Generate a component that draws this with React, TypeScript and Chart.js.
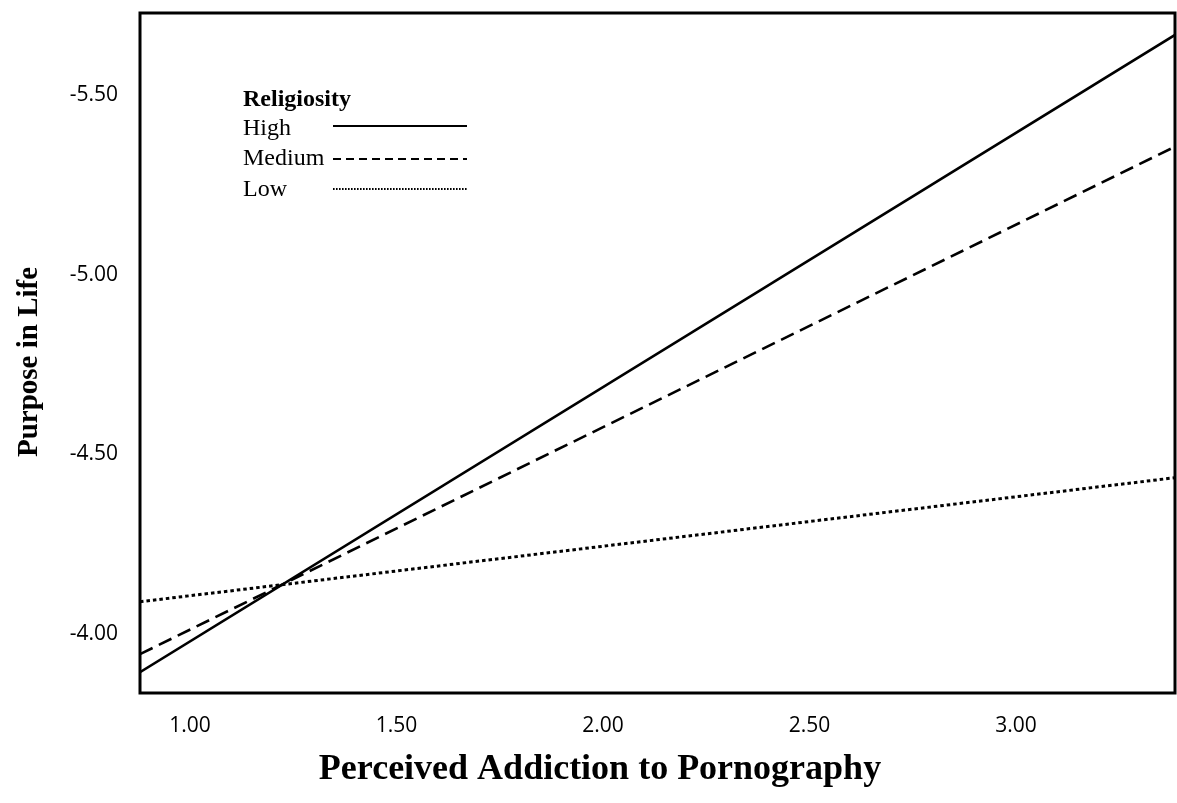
import React, { useEffect, useRef } from "react";
import { Chart, registerables } from "chart.js";

Chart.register(...registerables);

// ---- Data ----
const xValues = [0.879, 3.385];
const highValues = [-3.894, -5.667];
const mediumValues = [-3.944, -5.356];
const lowValues = [-4.09, -4.435];
const seriesLabels = ["High", "Medium", "Low"];
const xTickValues = [1.0, 1.5, 2.0, 2.5, 3.0];
const yTickValues = [-5.5, -5.0, -4.5, -4.0];
const xTitle = "Perceived Addiction to Pornography";
const yTitle = "Purpose in Life";
const legendTitle = "Religiosity";

const SERIF = '"Liberation Serif", "Times New Roman", serif';
const SANS = '"Open Sans", "Noto Sans", sans-serif';

const W = 1177;
const H = 803;

const decorPlugin = {
  id: "decor",
  afterDraw(chart: any) {
    const { ctx, chartArea } = chart;
    ctx.save();
    // frame
    ctx.strokeStyle = "#000";
    ctx.lineWidth = 3;
    ctx.setLineDash([]);
    ctx.strokeRect(chartArea.left, chartArea.top, chartArea.right - chartArea.left, chartArea.bottom - chartArea.top);

    // axis titles
    ctx.fillStyle = "#000";
    ctx.textAlign = "center";
    ctx.textBaseline = "middle";
    ctx.font = `bold 36px ${SERIF}`;
    ctx.fillText(xTitle, 600, 770);
    ctx.font = `bold 29px ${SERIF}`;
    ctx.save();
    ctx.translate(30, 362);
    ctx.rotate(-Math.PI / 2);
    ctx.fillText(yTitle, 0, 0);
    ctx.restore();

    // legend
    const lx = 243;
    ctx.textAlign = "left";
    ctx.font = `bold 24px ${SERIF}`;
    ctx.fillText(legendTitle, lx, 100);
    ctx.font = `24px ${SERIF}`;
    const rowText = [129, 159, 190];
    const rowLine = [126, 159, 189];
    const sampleDash = [[], [8, 5], [1.6, 1.4]];
    chart.data.datasets.forEach((ds: any, i: number) => {
      ctx.fillText(ds.label, lx, rowText[i]);
      ctx.beginPath();
      ctx.setLineDash(sampleDash[i]);
      ctx.lineWidth = 2;
      ctx.moveTo(333, rowLine[i]);
      ctx.lineTo(467, rowLine[i]);
      ctx.stroke();
    });
    ctx.restore();
  },
};

export default function App() {
  const ref = useRef<HTMLCanvasElement | null>(null);

  useEffect(() => {
    if (!ref.current) return;
    const mk = (vals: number[]) => xValues.map((x, i) => ({ x, y: vals[i] }));
    const chart = new Chart(ref.current, {
      type: "line",
      data: {
        datasets: [
          {
            label: seriesLabels[0],
            data: mk(highValues),
            borderColor: "#000",
            borderWidth: 2.6,
            pointRadius: 0,
            fill: false,
          },
          {
            label: seriesLabels[1],
            data: mk(mediumValues),
            borderColor: "#000",
            borderWidth: 2.6,
            borderDash: [14, 7],
            pointRadius: 0,
            fill: false,
          },
          {
            label: seriesLabels[2],
            data: mk(lowValues),
            borderColor: "#000",
            borderWidth: 3,
            borderDash: [3.5, 3],
            pointRadius: 0,
            fill: false,
          },
        ],
      },
      options: {
        responsive: false,
        animation: false,
        layout: { padding: { top: 13, right: 2, left: 0, bottom: 0 } },
        plugins: { legend: { display: false }, tooltip: { enabled: false } },
        scales: {
          x: {
            type: "linear",
            min: xValues[0],
            max: xValues[xValues.length - 1],
            grid: { display: false, drawTicks: false },
            border: { display: false },
            afterFit: (s: any) => {
              s.height = 110;
              s.paddingLeft = 0;
              s.paddingRight = 0;
            },
            afterBuildTicks: (s: any) => {
              s.ticks = xTickValues.map((v) => ({ value: v }));
            },
            ticks: {
              padding: 20,
              color: "#000",
              font: { family: SANS, size: 21 },
              callback: (v: any) => Number(v).toFixed(2),
            },
          },
          y: {
            type: "linear",
            reverse: true,
            min: -5.728,
            max: -3.836,
            grid: { display: false, drawTicks: false },
            border: { display: false },
            afterFit: (s: any) => {
              s.width = 140;
              s.paddingTop = 0;
              s.paddingBottom = 0;
            },
            afterBuildTicks: (s: any) => {
              s.ticks = yTickValues.map((v) => ({ value: v }));
            },
            ticks: {
              padding: 22,
              color: "#000",
              font: { family: SANS, size: 21 },
              callback: (v: any) => Number(v).toFixed(2),
            },
          },
        },
      },
      plugins: [decorPlugin],
    } as any);
    return () => chart.destroy();
  }, []);

  return (
    <div style={{ position: "absolute", left: 0, top: 0, width: W, height: H, background: "#fff" }}>
      <canvas ref={ref} width={W} height={H} style={{ display: "block" }} />
    </div>
  );
}
